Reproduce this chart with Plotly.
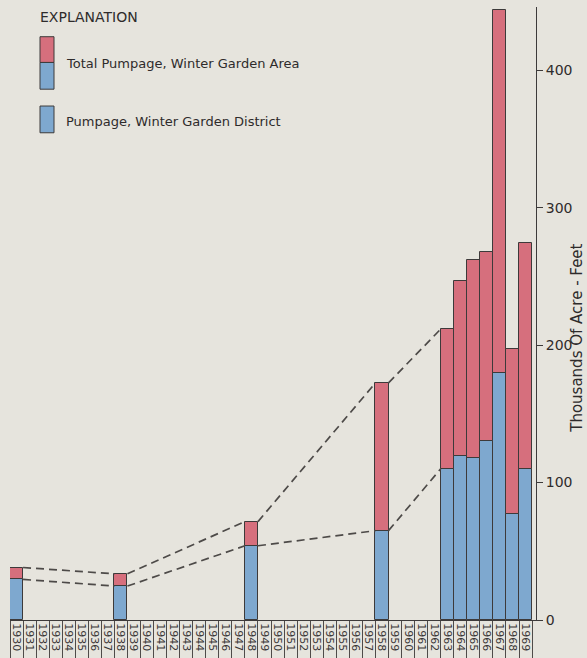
import plotly.graph_objects as go

# ---- data (thousands of acre-feet) ----
years = [1930, 1938, 1948, 1958, 1963, 1964, 1965, 1966, 1967, 1968, 1969]
district = [29.5, 24.7, 54, 65, 110, 119.6, 117.7, 130, 179.7, 77, 110]
total = [38.2, 33.6, 71.6, 172.5, 211.7, 246.5, 261.6, 267.4, 444, 197, 274]
axis_years = list(range(1930, 1970))
y_ticks = [0, 100, 200, 300, 400]

BG = "#e6e4dd"
RED = "#d66f7d"
BLUE = "#7ea8cf"
EDGE = "#3d3a3a"
DASH = "#4d4a48"
FONT = "DejaVu Sans"
TXT = "#2e2b2b"

W, H = 587, 658
L, R, T, B = 10, 51, 7, 32
pw, ph = W - L - R, H - T - B


def px(x):
    return (x - L) / pw


def py(y):
    return (H - B - y) / ph


remainder = [t - d for t, d in zip(total, district)]

fig = go.Figure()
fig.add_trace(go.Bar(x=years, y=district, width=1, marker=dict(color=BLUE, line=dict(color=EDGE, width=1)),
                     showlegend=False, hoverinfo="skip"))
fig.add_trace(go.Bar(x=years, y=remainder, base=district, width=1,
                     marker=dict(color=RED, line=dict(color=EDGE, width=1)),
                     showlegend=False, hoverinfo="skip"))


def edge_line(vals):
    xs, ys = [], []
    for i in range(len(years) - 1):
        a, b = years[i], years[i + 1]
        if b - a > 1:
            xs += [a + 0.5, b - 0.5, None]
            ys += [vals[i], vals[i + 1], None]
    return xs, ys


for vals in (total, district):
    xs, ys = edge_line(vals)
    fig.add_trace(go.Scatter(x=xs, y=ys, mode="lines", line=dict(color=DASH, width=1.7, dash="8px,5px"),
                             showlegend=False, hoverinfo="skip"))

fig.update_layout(
    width=W, height=H, margin=dict(l=L, r=R, t=T, b=B),
    paper_bgcolor=BG, plot_bgcolor=BG, barmode="overlay", bargap=0,
    font=dict(family=FONT, color=TXT),
    xaxis=dict(range=[1929.5, 1969.8], tickvals=axis_years, ticktext=[str(y) for y in axis_years],
               tickangle=90, ticks="", showgrid=False, zeroline=False, showline=True,
               linecolor=EDGE, linewidth=1, tickfont=dict(size=11, family=FONT, color="#3a3636"),
               minor=dict(tick0=1929.5, dtick=1, ticks="outside", ticklen=45, tickcolor="#4f4b49",
                          tickwidth=1, showgrid=False)),
    yaxis=dict(range=[0, 446], side="right", tickvals=y_ticks, ticks="outside", ticklen=6,
               tickcolor=EDGE, showline=True, linecolor=EDGE, linewidth=1, showgrid=False,
               zeroline=False, tickfont=dict(size=14, family=FONT, color=TXT)),
)

# y-axis title
fig.add_annotation(text="Thousands Of Acre - Feet", x=px(588), y=py(342), xref="paper", yref="paper",
                   textangle=-90, showarrow=False, font=dict(size=15, family=FONT, color=TXT))

# explanation / legend
fig.add_annotation(text="EXPLANATION", x=px(38), y=py(17), xref="paper", yref="paper", xanchor="left",
                   yanchor="middle", showarrow=False, font=dict(size=14, family=FONT, color=TXT))
for (x0, y0, x1, y1, c) in [(40, 37, 54, 63, RED), (40, 63, 54, 90, BLUE), (40, 107, 54, 134, BLUE)]:
    fig.add_shape(type="rect", xref="paper", yref="paper", x0=px(x0), x1=px(x1), y0=py(y0), y1=py(y1),
                  fillcolor=c, line=dict(color=EDGE, width=1))
fig.add_annotation(text="Total Pumpage, Winter Garden Area", x=px(64), y=py(64), xref="paper", yref="paper",
                   xanchor="left", yanchor="middle", showarrow=False,
                   font=dict(size=13, family=FONT, color=TXT))
fig.add_annotation(text="Pumpage, Winter Garden District", x=px(64), y=py(123), xref="paper", yref="paper",
                   xanchor="left", yanchor="middle", showarrow=False,
                   font=dict(size=13, family=FONT, color=TXT))

fig.write_html("out.html")
